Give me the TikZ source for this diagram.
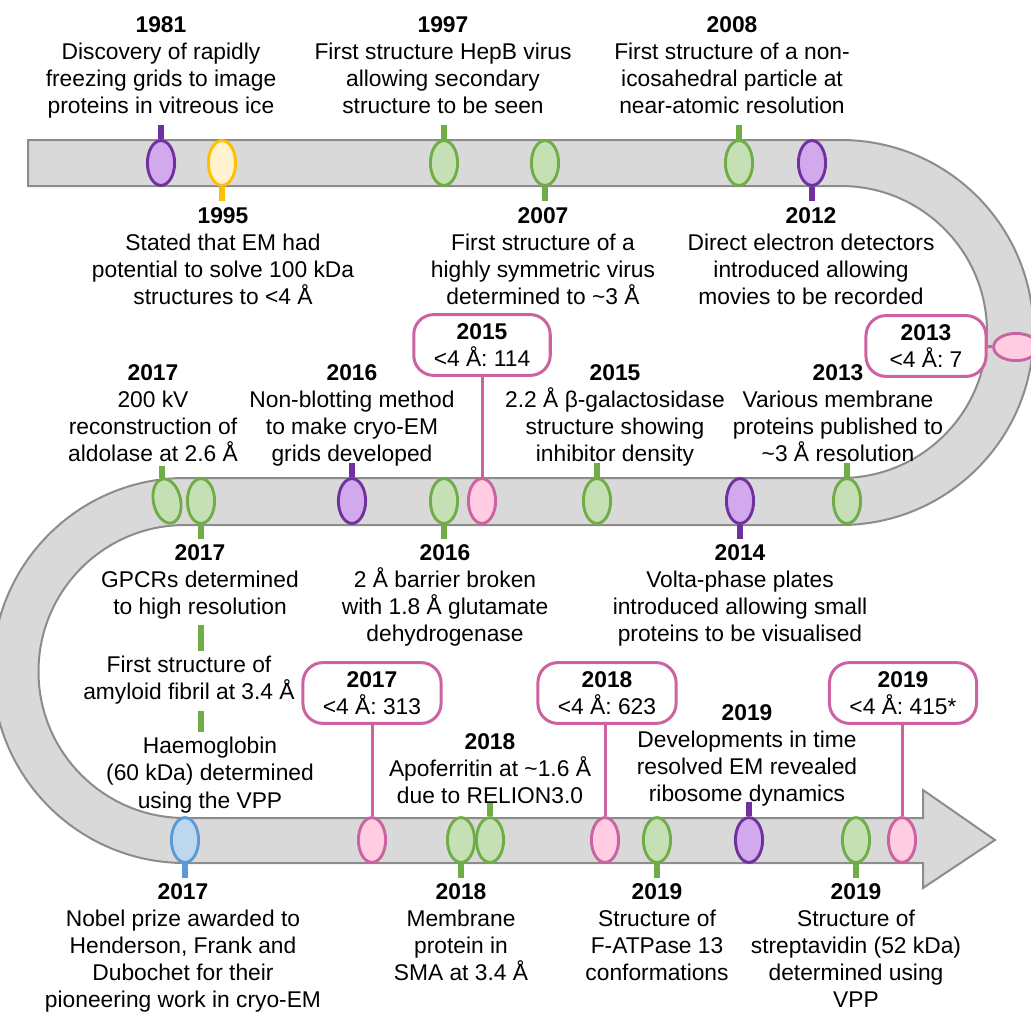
\documentclass[tikz,border=0pt]{standalone}
\usepackage{fontspec}
\setmainfont{Liberation Sans}
\usetikzlibrary{shapes.geometric}

\definecolor{bandfill}{HTML}{D9D9D9}
\definecolor{bandline}{HTML}{8C8C8C}
\definecolor{grnline}{HTML}{70AD47}
\definecolor{grnfill}{HTML}{C5E0B4}
\definecolor{purline}{HTML}{7030A0}
\definecolor{purfill}{HTML}{D2A9EC}
\definecolor{yelline}{HTML}{FFC000}
\definecolor{yelfill}{HTML}{FFF2CC}
\definecolor{pnkline}{HTML}{CC62A2}
\definecolor{pnkfill}{HTML}{FFCCE1}
\definecolor{bluline}{HTML}{5B9BD5}
\definecolor{blufill}{HTML}{BDD7EE}

\begin{document}
\begin{tikzpicture}[x=0.025cm, y=-0.025cm,
    every node/.style={font=\fontsize{16.2}{19.3}\selectfont},
    event/.style={ellipse, draw, line width=0.072cm, minimum width=0.68cm, minimum height=1.12cm, inner sep=0pt},
    grn/.style={event, draw=grnline, fill=grnfill},
    pur/.style={event, draw=purline, fill=purfill},
    yel/.style={event, draw=yelline, fill=yelfill},
    pnk/.style={event, draw=pnkline, fill=pnkfill},
    blu/.style={event, draw=bluline, fill=blufill},
    stem/.style={line width=0.13cm},
    desc/.style={align=center, anchor=north, inner sep=0pt},
    tally/.style={draw=pnkline, line width=0.075cm, rounded corners=0.5cm, fill=white, align=center, minimum width=3cm, minimum height=1.52cm, inner xsep=0.5cm},
    link/.style={draw=pnkline, line width=0.075cm}]
    \useasboundingbox (0,0) rectangle (1031,1014);
    \clip (0,0) rectangle (1031,1014);

    % the band, from 1981 to the arrow tip
    \draw [fill=bandfill, draw=bandline, line width=0.05cm]
        (28,140) -- (841,140) arc[start angle=-90, end angle=90, radius=192.5]
        -- (185,525) arc[start angle=270, end angle=90, radius=146.5]
        -- (923,818) -- (923,790) -- (995,840) -- (923,888) -- (923,863)
        -- (185,863) arc[start angle=90, end angle=270, radius=192.5]
        -- (841,478) arc[start angle=90, end angle=-90, radius=146]
        -- (28,186) -- cycle;

    % top row
    \node [pur] (e81) at (161,163) {};
    \node [yel] (e95) at (222,163) {};
    \node [grn] (e97) at (444,163) {};
    \node [grn] (e07) at (545,163) {};
    \node [grn] (e08) at (739,163) {};
    \node [pur] (e12) at (812,163) {};
    \node [pnk, rotate=90] (e13c) at (1016,347) {};

    % middle row
    \node [grn, rotate=12] (e17a) at (167,501) {};
    \node [grn] (e17b) at (201,501) {};
    \node [pur] (e16a) at (352,501) {};
    \node [grn] (e16b) at (444,501) {};
    \node [pnk] (e15c) at (482,501) {};
    \node [grn] (e15) at (597,501) {};
    \node [pur] (e14) at (740,501) {};
    \node [grn] (e13) at (847,501) {};

    % bottom row
    \node [blu] (e17n) at (185,840) {};
    \node [pnk] (e17c) at (372,840) {};
    \node [grn] (e18b) at (461,840) {};
    \node [grn] (e18a) at (490,840) {};
    \node [pnk] (e18c) at (605,840) {};
    \node [grn] (e19b) at (657,840) {};
    \node [pur] (e19a) at (749,840) {};
    \node [grn] (e19c) at (856,840) {};
    \node [pnk] (e19d) at (902,840) {};

    % stems
    \draw [stem, purline] (e81.north) -- ++(0,-14);
    \draw [stem, yelline] (e95.south) -- ++(0,14);
    \draw [stem, grnline] (e97.north) -- ++(0,-14);
    \draw [stem, grnline] (e07.south) -- ++(0,14);
    \draw [stem, grnline] (e08.north) -- ++(0,-14);
    \draw [stem, purline] (e12.south) -- ++(0,14);
    \draw [stem, grnline] (e17a.north) -- ++(0,-12);
    \draw [stem, grnline] (e17b.south) -- ++(0,14);
    \draw [stem, purline] (e16a.north) -- ++(0,-14);
    \draw [stem, grnline] (e16b.south) -- ++(0,14);
    \draw [stem, grnline] (e15.north) -- ++(0,-14);
    \draw [stem, purline] (e14.south) -- ++(0,14);
    \draw [stem, grnline] (e13.north) -- ++(0,-14);
    \draw [stem, bluline] (e17n.south) -- ++(0,14);
    \draw [stem, grnline] (e18b.south) -- ++(0,14);
    \draw [stem, grnline] (e18a.north) -- ++(0,-14);
    \draw [stem, grnline] (e19b.south) -- ++(0,14);
    \draw [stem, purline] (e19a.north) -- ++(0,-14);
    \draw [stem, grnline] (e19c.south) -- ++(0,14);

    % texts above and below the band
    \node [desc] (t81) at (161,16) {\textbf{1981}\\Discovery of rapidly\\freezing grids to image\\proteins in vitreous ice};
    \node [desc] (t97) at (443,16) {\textbf{1997}\\First structure HepB virus\\allowing secondary\\structure to be seen};
    \node [desc] (t08) at (732,16) {\textbf{2008}\\First structure of a non-\\icosahedral particle at\\near-atomic resolution};
    \node [desc] (t95) at (223,207) {\textbf{1995}\\Stated that EM had\\potential to solve 100 kDa\\structures to <4 Å};
    \node [desc] (t07) at (543,207) {\textbf{2007}\\First structure of a\\highly symmetric virus\\determined to \textasciitilde3 Å};
    \node [desc] (t12) at (811,207) {\textbf{2012}\\Direct electron detectors\\introduced allowing\\movies to be recorded};
    \node [desc] (t17a) at (153,364) {\textbf{2017}\\200 kV\\reconstruction of\\aldolase at 2.6 Å};
    \node [desc] (t16a) at (352,364) {\textbf{2016}\\Non-blotting method\\to make cryo-EM\\grids developed};
    \node [desc] (t15) at (615,364) {\textbf{2015}\\2.2 Å β-galactosidase\\structure showing\\inhibitor density};
    \node [desc] (t13) at (838,364) {\textbf{2013}\\Various membrane\\proteins published to\\\textasciitilde3 Å resolution};
    \node [desc] (t17b) at (200,544) {\textbf{2017}\\GPCRs determined\\to high resolution};
    \node [desc] (t17c) at (189,656) {First structure of\\amyloid fibril at 3.4 Å};
    \node [desc] (t17d) at (210,737) {Haemoglobin\\(60 kDa) determined\\using the VPP};
    \node [desc] (t16b) at (445,544) {\textbf{2016}\\2 Å barrier broken\\with 1.8 Å glutamate\\dehydrogenase};
    \node [desc] (t14) at (740,544) {\textbf{2014}\\Volta-phase plates\\introduced allowing small\\proteins to be visualised};
    \node [desc] (t18a) at (490,733) {\textbf{2018}\\Apoferritin at \textasciitilde1.6 Å\\due to RELION3.0};
    \node [desc] (t19a) at (747,704) {\textbf{2019}\\Developments in time\\resolved EM revealed\\ribosome dynamics};
    \node [desc] (t17n) at (183,883) {\textbf{2017}\\Nobel prize awarded to\\Henderson, Frank and\\Dubochet for their\\pioneering work in cryo-EM};
    \node [desc] (t18b) at (461,883) {\textbf{2018}\\Membrane\\protein in\\SMA at 3.4 Å};
    \node [desc] (t19b) at (657,883) {\textbf{2019}\\Structure of\\F-ATPase 13\\conformations};
    \node [desc] (t19c) at (856,883) {\textbf{2019}\\Structure of\\streptavidin (52 kDa)\\determined using\\VPP};

    \draw [stem, grnline, shorten <=0.15cm, shorten >=0.12cm] (e17b |- t17b.south) -- (e17b |- t17c.north);
    \draw [stem, grnline, shorten <=0.15cm, shorten >=0.12cm] (e17b |- t17c.south) -- (e17b |- t17d.north);

    % number of structures below 4 A
    \node [tally] (b13) at (926,346) {\textbf{2013}\\<4 Å: 7};
    \node [tally] (b15) at (482,345) {\textbf{2015}\\<4 Å: 114};
    \node [tally] (b17) at (372,693) {\textbf{2017}\\<4 Å: 313};
    \node [tally] (b18) at (607,693) {\textbf{2018}\\<4 Å: 623};
    \node [tally] (b19) at (903,693) {\textbf{2019}\\<4 Å: 415*};

    \draw [link] (b13) -- (e13c);
    \draw [link] (e15c |- b15.south) -- (e15c.north);
    \draw [link] (e17c |- b17.south) -- (e17c.north);
    \draw [link] (e18c |- b18.south) -- (e18c.north);
    \draw [link] (e19d |- b19.south) -- (e19d.north);
\end{tikzpicture}
\end{document}
